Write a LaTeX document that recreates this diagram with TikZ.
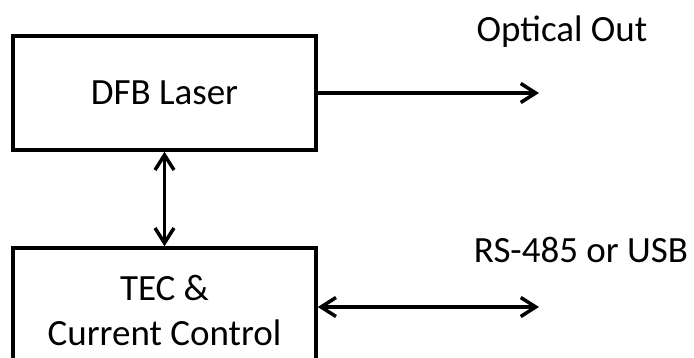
\documentclass[tikz,border=0pt]{standalone}
\usepackage{fontspec}
\setmainfont{Carlito}
\usetikzlibrary{arrows.meta}
\begin{document}
\begin{tikzpicture}[x=1pt,y=-1pt,
  box/.style={draw,line width=3.5pt,inner sep=0pt,align=center,font=\fontsize{37}{45}\selectfont},
  lbl/.style={inner sep=0pt,font=\fontsize{37}{45}\selectfont},
  tip/.tip={Straight Barb[length=15pt,width=19pt,line width=3.5pt]},
  conn/.style={line width=3.5pt,arrows={-tip}},
  biconn/.style={line width=3.5pt,arrows={tip-tip}}]
\useasboundingbox (0,0) rectangle (694,358);
\clip (0,0) rectangle (694,358);
\node[box,minimum width=303pt,minimum height=114pt] (dfb) at (164.5,93) {DFB Laser};
\node[box,minimum width=303pt,minimum height=124pt] (tec) at (164.5,310) {TEC \&\\Current Control};
\coordinate (oo) at (539,93);
\coordinate (rs) at (539,307);
\node[lbl,anchor=base] (lo) at (562,42) {Optical Out};
\node[lbl,anchor=base] (lr) at (581,263) {RS-485 or USB};
\draw[conn] (dfb.east) -- (oo);
\draw[biconn] (dfb.south) -- (tec.north);
\draw[biconn] (tec.east |- rs) -- (rs);
\end{tikzpicture}
\end{document}
